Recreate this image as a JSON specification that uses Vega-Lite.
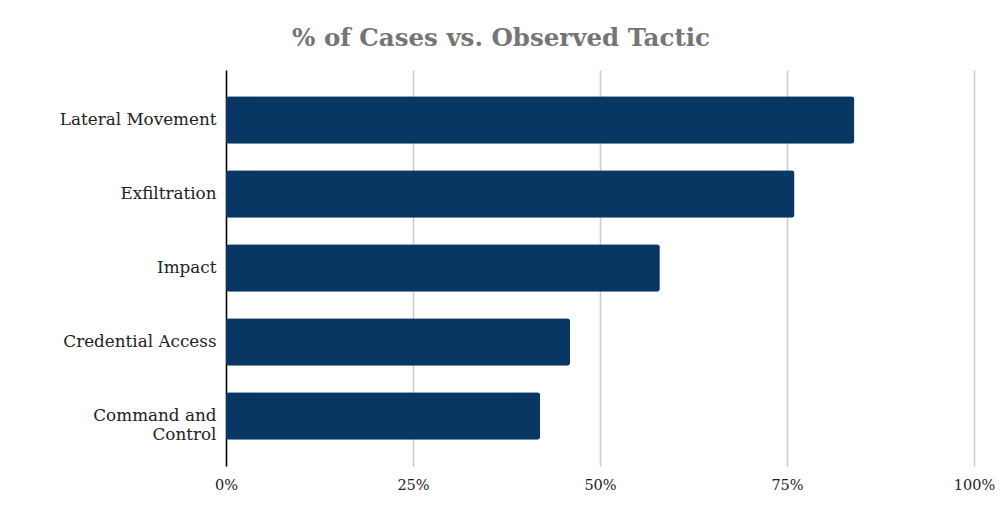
{
  "$schema": "https://vega.github.io/schema/vega-lite/v6.json",
  "autosize": {"type": "none"},
  "padding": {"left": 226, "top": 70, "right": 26, "bottom": 52},
  "width": 748,
  "height": 396,
  "background": "white",
  "title": {
    "text": "% of Cases vs. Observed Tactic",
    "font": "DejaVu Serif",
    "fontSize": 24.5,
    "fontWeight": "bold",
    "color": "#757575",
    "anchor": "middle",
    "frame": "group",
    "dx": -99,
    "offset": 19
  },
  "data": {
    "values": [
      {"tactic": "Lateral Movement", "pct": 0.84},
      {"tactic": "Exfiltration", "pct": 0.76},
      {"tactic": "Impact", "pct": 0.58},
      {"tactic": "Credential Access", "pct": 0.46},
      {"tactic": "Command and Control", "pct": 0.42}
    ]
  },
  "mark": {"type": "bar", "color": "#083763", "cornerRadius": 3},
  "encoding": {
    "y": {
      "field": "tactic",
      "type": "nominal",
      "sort": null,
      "scale": {"paddingInner": 0.36, "paddingOuter": 0.355},
      "axis": {
        "title": null,
        "domainColor": "#000000",
        "domainWidth": 1.5,
        "ticks": false,
        "labelPadding": 10,
        "labelFont": "DejaVu Serif",
        "labelFontSize": 16.8,
        "labelLineHeight": 19,
        "labelColor": "#222222",
        "labelLimit": 300,
        "labelExpr": "datum.label == 'Command and Control' ? ['Command and', 'Control'] : datum.label"
      }
    },
    "x": {
      "field": "pct",
      "type": "quantitative",
      "scale": {"domain": [0, 1], "nice": false},
      "axis": {
        "title": null,
        "format": ".0%",
        "values": [0, 0.25, 0.5, 0.75, 1],
        "grid": true,
        "gridColor": "#cccccc",
        "gridWidth": 1.5,
        "domain": false,
        "ticks": false,
        "labelFlush": false,
        "labelPadding": 12,
        "labelFont": "DejaVu Serif",
        "labelFontSize": 14.5,
        "labelColor": "#222222"
      }
    }
  },
  "config": {"view": {"stroke": null}}
}
